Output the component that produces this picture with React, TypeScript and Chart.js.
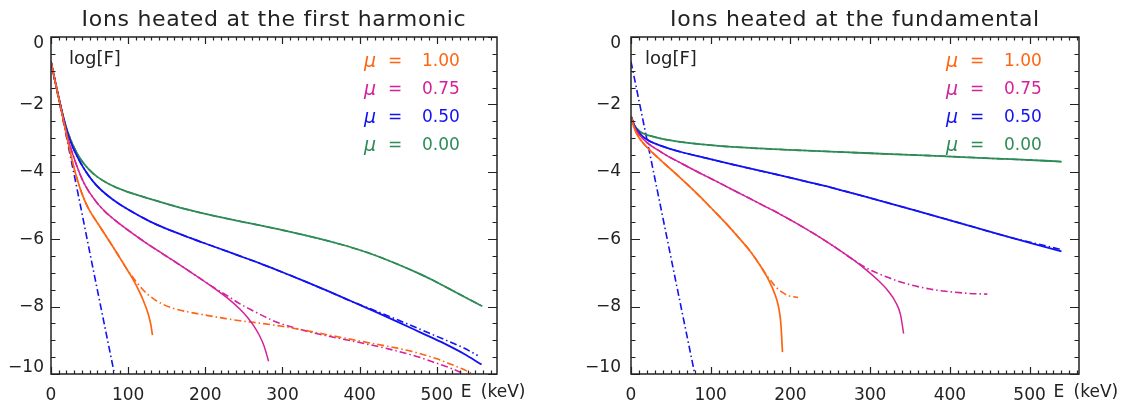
import React, { useEffect, useRef } from 'react';
import { Chart, registerables } from 'chart.js';

Chart.register(...registerables);

const FONT = '"DejaVu Sans", "Liberation Sans", sans-serif';
const INK = '#222222';
const ORANGE = '#ff6412';
const MAGENTA = '#d3229a';
const BLUE = '#1212f2';
const GREEN = '#2e8b57';

// ---- tick labels / legend text ----
const xTickValues = [0, 100, 200, 300, 400, 500];
const yTickValues = [0, -2, -4, -6, -8, -10];
const muLabels = ['1.00', '0.75', '0.50', '0.00'];
const leftTitle = 'Ions heated at the first harmonic';
const rightTitle = 'Ions heated at the fundamental';

// ---- left panel: first harmonic (E in keV, log F) ----
const h1OrangeE = [0, 5, 10, 15, 20, 25, 30, 35, 40, 45, 50, 56, 62, 70, 79, 87, 94, 100, 105, 110, 115, 120, 124, 127, 129.5, 131.5];
const h1OrangeL = [-0.73, -1.28, -1.82, -2.36, -2.9, -3.42, -3.9, -4.3, -4.64, -4.92, -5.15, -5.37, -5.58, -5.86, -6.18, -6.47, -6.73, -6.95, -7.14, -7.35, -7.58, -7.84, -8.08, -8.3, -8.55, -8.85];
const h1OrangeDashE = [0, 5, 10, 15, 20, 25, 30, 35, 40, 45, 50, 56, 62, 70, 79, 87, 94, 100, 105, 111, 118, 125, 133, 145, 158, 180, 202, 225, 245, 270, 301, 335, 366, 400, 430, 460, 482, 500, 517, 532, 545];
const h1OrangeDashL = [-0.73, -1.28, -1.82, -2.36, -2.9, -3.42, -3.9, -4.3, -4.64, -4.92, -5.15, -5.37, -5.58, -5.86, -6.18, -6.47, -6.73, -6.95, -7.1, -7.28, -7.47, -7.63, -7.77, -7.93, -8.05, -8.17, -8.26, -8.35, -8.42, -8.49, -8.59, -8.73, -8.87, -9.02, -9.15, -9.29, -9.42, -9.55, -9.7, -9.84, -9.98];

const h1MagentaE = [0, 5, 10, 15, 20, 25, 30, 36, 42, 50, 60, 70, 82, 95, 115, 137, 160, 180, 200, 215, 230, 245, 255, 263, 270, 276, 282];
const h1MagentaL = [-0.73, -1.28, -1.8, -2.32, -2.82, -3.25, -3.6, -3.98, -4.3, -4.62, -4.93, -5.18, -5.42, -5.65, -5.98, -6.32, -6.66, -6.96, -7.27, -7.51, -7.77, -8.08, -8.33, -8.58, -8.85, -9.16, -9.62];
const h1MagentaDashE = [0, 5, 10, 15, 20, 25, 30, 36, 42, 50, 60, 70, 82, 95, 115, 137, 160, 180, 200, 215, 230, 245, 258, 271, 285, 301, 320, 344, 375, 409, 440, 474, 500, 517, 534];
const h1MagentaDashL = [-0.73, -1.28, -1.8, -2.32, -2.82, -3.25, -3.6, -3.98, -4.3, -4.62, -4.93, -5.18, -5.42, -5.65, -5.98, -6.32, -6.66, -6.96, -7.27, -7.49, -7.7, -7.92, -8.08, -8.23, -8.39, -8.53, -8.66, -8.8, -8.95, -9.11, -9.27, -9.48, -9.68, -9.82, -9.98];

const h1BlueE = [0, 5, 10, 15, 20, 25, 30, 38, 46, 55, 65, 80, 100, 128, 155, 180, 210, 240, 270, 300, 330, 360, 390, 420, 450, 480, 510, 535, 558];
const h1BlueL = [-0.73, -1.28, -1.8, -2.3, -2.74, -3.08, -3.36, -3.72, -4.02, -4.3, -4.54, -4.82, -5.12, -5.47, -5.74, -5.96, -6.21, -6.46, -6.71, -6.98, -7.26, -7.55, -7.85, -8.15, -8.46, -8.78, -9.1, -9.4, -9.72];
const h1BlueDashE = [0, 5, 10, 15, 20, 25, 30, 38, 46, 55, 65, 80, 100, 128, 155, 180, 210, 240, 270, 300, 330, 360, 390, 420, 450, 480, 510, 535, 553];
const h1BlueDashL = [-0.73, -1.28, -1.8, -2.3, -2.74, -3.08, -3.36, -3.72, -4.02, -4.3, -4.54, -4.82, -5.12, -5.47, -5.74, -5.96, -6.21, -6.46, -6.71, -6.98, -7.26, -7.55, -7.85, -8.12, -8.4, -8.69, -8.98, -9.23, -9.45];

const h1GreenE = [0, 5, 10, 15, 20, 25, 30, 35, 42, 50, 60, 75, 95, 125, 150, 175, 200, 230, 260, 300, 345, 375, 400, 425, 450, 475, 495, 525, 559];
const h1GreenL = [-0.73, -1.28, -1.8, -2.28, -2.7, -3.02, -3.28, -3.5, -3.74, -3.95, -4.15, -4.36, -4.56, -4.78, -4.95, -5.11, -5.25, -5.4, -5.54, -5.73, -5.97, -6.15, -6.32, -6.52, -6.75, -7.0, -7.22, -7.58, -7.99];

const h1ThermalE = [0, 36.7, 50.5, 81.6];
const h1ThermalL = [-0.73, -4.84, -6.42, -9.93];

// ---- right panel: fundamental ----
const f1OrangeE = [0, 2, 5, 10, 16, 22, 30, 43, 55, 70, 85, 100, 118, 135, 150, 162, 172, 180, 185, 188, 190];
const f1OrangeL = [-2.35, -2.55, -2.76, -2.98, -3.17, -3.32, -3.5, -3.78, -4.03, -4.36, -4.7, -5.06, -5.5, -5.95, -6.37, -6.78, -7.18, -7.6, -8.0, -8.5, -9.35];
const f1OrangeDashE = [0, 2, 5, 10, 16, 22, 30, 43, 55, 70, 85, 100, 118, 135, 150, 162, 168, 175, 181, 190, 198, 209.5];
const f1OrangeDashL = [-2.35, -2.55, -2.76, -2.98, -3.17, -3.32, -3.5, -3.78, -4.03, -4.36, -4.7, -5.06, -5.5, -5.95, -6.37, -6.78, -7.0, -7.22, -7.4, -7.58, -7.68, -7.73];

const f1MagentaE = [0, 4, 9.5, 15, 22, 32, 45, 64, 85, 106, 128, 148, 165, 181, 200, 220, 240, 260, 280, 295, 310, 322, 332, 338, 342];
const f1MagentaL = [-2.35, -2.65, -2.87, -3.02, -3.17, -3.33, -3.52, -3.76, -4.02, -4.27, -4.54, -4.78, -4.99, -5.18, -5.43, -5.7, -5.99, -6.3, -6.63, -6.91, -7.22, -7.52, -7.87, -8.23, -8.8];
const f1MagentaDashE = [0, 4, 9.5, 15, 22, 32, 45, 64, 85, 106, 128, 148, 165, 181, 200, 220, 240, 260, 280, 295, 310, 322, 334, 350, 375, 400, 425, 447];
const f1MagentaDashL = [-2.35, -2.65, -2.87, -3.02, -3.17, -3.33, -3.52, -3.76, -4.02, -4.27, -4.54, -4.78, -4.99, -5.18, -5.43, -5.7, -5.99, -6.3, -6.63, -6.85, -7.02, -7.13, -7.24, -7.35, -7.48, -7.56, -7.61, -7.63];

const f1BlueE = [0, 4, 9.5, 15, 22, 32, 45, 64, 90, 127, 160, 190, 220, 250, 280, 313, 363, 417, 470, 526, 540];
const f1BlueL = [-2.35, -2.62, -2.82, -2.96, -3.07, -3.18, -3.29, -3.42, -3.57, -3.78, -3.96, -4.12, -4.29, -4.46, -4.65, -4.86, -5.19, -5.55, -5.91, -6.27, -6.36];
const f1BlueDashL = [-2.35, -2.62, -2.82, -2.96, -3.07, -3.18, -3.29, -3.42, -3.57, -3.78, -3.96, -4.12, -4.29, -4.46, -4.65, -4.86, -5.19, -5.55, -5.91, -6.23, -6.31];

const f1GreenE = [0, 4, 9.5, 15, 22, 35, 50, 64, 100, 127, 190, 250, 300, 375, 450, 526, 540];
const f1GreenL = [-2.35, -2.6, -2.77, -2.86, -2.92, -3.0, -3.07, -3.12, -3.21, -3.26, -3.34, -3.4, -3.45, -3.52, -3.6, -3.68, -3.7];

const f1ThermalE = [0, 34.7, 60.6, 79.4];
const f1ThermalL = [-0.73, -4.75, -7.76, -9.93];

const DASH = [7, 3, 1.5, 3];

type Series = { e: number[]; l: number[]; color: string; dashed: boolean; width: number };

const leftSeries: Series[] = [
  { e: h1ThermalE, l: h1ThermalL, color: BLUE, dashed: true, width: 1.6 },
  { e: h1OrangeDashE, l: h1OrangeDashL, color: ORANGE, dashed: true, width: 1.6 },
  { e: h1MagentaDashE, l: h1MagentaDashL, color: MAGENTA, dashed: true, width: 1.6 },
  { e: h1BlueDashE, l: h1BlueDashL, color: BLUE, dashed: true, width: 1.6 },
  { e: h1GreenE, l: h1GreenL, color: GREEN, dashed: true, width: 1.6 },
  { e: h1OrangeE, l: h1OrangeL, color: ORANGE, dashed: false, width: 1.7 },
  { e: h1MagentaE, l: h1MagentaL, color: MAGENTA, dashed: false, width: 1.5 },
  { e: h1BlueE, l: h1BlueL, color: BLUE, dashed: false, width: 1.8 },
  { e: h1GreenE, l: h1GreenL, color: GREEN, dashed: false, width: 1.8 },
];

const rightSeries: Series[] = [
  { e: f1ThermalE, l: f1ThermalL, color: BLUE, dashed: true, width: 1.6 },
  { e: f1OrangeDashE, l: f1OrangeDashL, color: ORANGE, dashed: true, width: 1.6 },
  { e: f1MagentaDashE, l: f1MagentaDashL, color: MAGENTA, dashed: true, width: 1.6 },
  { e: f1BlueE, l: f1BlueDashL, color: BLUE, dashed: true, width: 1.6 },
  { e: f1GreenE, l: f1GreenL, color: GREEN, dashed: true, width: 1.6 },
  { e: f1OrangeE, l: f1OrangeL, color: ORANGE, dashed: false, width: 1.7 },
  { e: f1MagentaE, l: f1MagentaL, color: MAGENTA, dashed: false, width: 1.5 },
  { e: f1BlueE, l: f1BlueL, color: BLUE, dashed: false, width: 1.8 },
  { e: f1GreenE, l: f1GreenL, color: GREEN, dashed: false, width: 1.8 },
];

const legendColors = [ORANGE, MAGENTA, BLUE, GREEN];

type PanelCfg = {
  title: string;
  xMax: number;
  left: number;
  width: number;
  padding: { left: number; right: number; top: number; bottom: number };
  logOffset: number;
  yLabelGap: number;
  series: Series[];
};

const panels: PanelCfg[] = [
  {
    title: leftTitle,
    xMax: 578,
    left: 0,
    width: 560,
    padding: { left: 51, right: 63, top: 37, bottom: 36 },
    logOffset: 18,
    yLabelGap: 7,
    series: leftSeries,
  },
  {
    title: rightTitle,
    xMax: 562,
    left: 560,
    width: 565,
    padding: { left: 71, right: 46, top: 37, bottom: 36 },
    logOffset: 14,
    yLabelGap: 10,
    series: rightSeries,
  },
];

function makeAxesPlugin(cfg: PanelCfg) {
  return {
    id: 'idlAxes',
    afterDraw(chart: any) {
      const { ctx, chartArea: a } = chart;
      const xs = chart.scales.x;
      const ys = chart.scales.y;
      ctx.save();
      ctx.strokeStyle = INK;
      ctx.fillStyle = INK;

      // box
      ctx.lineWidth = 1.5;
      ctx.strokeRect(a.left, a.top, a.right - a.left, a.bottom - a.top);

      // x ticks (top & bottom, pointing inward)
      ctx.lineWidth = 1.2;
      ctx.beginPath();
      for (let v = 0; v <= cfg.xMax + 1e-6; v += 10) {
        const px = Math.round(xs.getPixelForValue(v)) + 0.5;
        const major = v % 100 === 0;
        const len = major ? 7 : 3.5;
        ctx.moveTo(px, a.bottom);
        ctx.lineTo(px, a.bottom - len);
        ctx.moveTo(px, a.top);
        ctx.lineTo(px, a.top + len);
      }
      // y ticks (left & right)
      for (let k = 0; k <= 20; k++) {
        const v = -k * 0.5;
        const py = Math.round(ys.getPixelForValue(v)) + 0.5;
        const major = k % 4 === 0;
        const len = major ? 9 : 4.5;
        ctx.moveTo(a.left, py);
        ctx.lineTo(a.left + len, py);
        ctx.moveTo(a.right, py);
        ctx.lineTo(a.right - len, py);
      }
      ctx.stroke();

      // tick labels
      ctx.font = `17px ${FONT}`;
      ctx.textAlign = 'center';
      ctx.textBaseline = 'middle';
      xTickValues.forEach((v) => {
        ctx.fillText(String(v), xs.getPixelForValue(v), a.bottom + 22);
      });
      ctx.textAlign = 'right';
      yTickValues.forEach((v) => {
        const py = Math.min(Math.max(ys.getPixelForValue(v), a.top + 7), a.bottom - 6);
        const label = v < 0 ? '\u2212' + String(-v) : String(v);
        ctx.fillText(label, a.left - cfg.yLabelGap, py);
      });

      // axis name E (keV)
      ctx.textAlign = 'left';
      const ex = xs.getPixelForValue(500) + 24;
      ctx.fillText('E', ex, a.bottom + 19);
      ctx.fillText('(keV)', ex + 20, a.bottom + 19);

      // log[F]
      ctx.font = `18px ${FONT}`;
      ctx.textBaseline = 'alphabetic';
      ctx.fillText('log[F]', a.left + cfg.logOffset, a.top + 27);

      // title
      ctx.font = `22px ${FONT}`;
      ctx.textAlign = 'center';
      ctx.textBaseline = 'middle';
      try {
        (ctx as any).letterSpacing = '0.7px';
      } catch (e) {}
      ctx.fillText(cfg.title, (a.left + a.right) / 2, 20);
      try {
        (ctx as any).letterSpacing = '0px';
      } catch (e) {}

      // legend
      ctx.textAlign = 'left';
      muLabels.forEach((lab, i) => {
        const y = a.top + 25 + i * 28;
        ctx.fillStyle = legendColors[i];
        ctx.font = `italic 19px ${FONT}`;
        ctx.fillText('\u03bc', a.right - 133, y);
        ctx.font = `17px ${FONT}`;
        ctx.fillText('=', a.right - 109, y);
        ctx.fillText(lab, a.right - 75, y);
      });

      ctx.restore();
    },
  };
}

function Panel({ cfg }: { cfg: PanelCfg }) {
  const ref = useRef<HTMLCanvasElement>(null);
  useEffect(() => {
    const canvas = ref.current;
    if (!canvas) return;
    const chart = new Chart(canvas, {
      type: 'line',
      data: {
        datasets: cfg.series.map((s) => ({
          data: s.e.map((x, i) => ({ x, y: s.l[i] })),
          borderColor: s.color,
          backgroundColor: s.color,
          borderWidth: s.width,
          borderDash: s.dashed ? DASH : [],
          pointRadius: 0,
          fill: false,
          cubicInterpolationMode: 'monotone',
          order: s.dashed ? 1 : 0,
        })),
      },
      options: {
        responsive: false,
        animation: false,
        devicePixelRatio: 1,
        events: [],
        layout: { padding: cfg.padding },
        plugins: {
          legend: { display: false },
          title: { display: false },
          tooltip: { enabled: false },
        },
        scales: {
          x: { type: 'linear', min: 0, max: cfg.xMax, display: false },
          y: { type: 'linear', min: -10, max: 0, display: false },
        },
      } as any,
      plugins: [makeAxesPlugin(cfg)],
    } as any);
    return () => chart.destroy();
  }, [cfg]);
  return (
    <canvas
      ref={ref}
      width={cfg.width}
      height={410}
      style={{ position: 'absolute', left: cfg.left, top: 0, width: cfg.width, height: 410 }}
    />
  );
}

export default function App() {
  return (
    <div style={{ position: 'absolute', left: 0, top: 0, width: 1125, height: 410, background: '#ffffff' }}>
      {panels.map((p, i) => (
        <Panel key={i} cfg={p} />
      ))}
    </div>
  );
}
